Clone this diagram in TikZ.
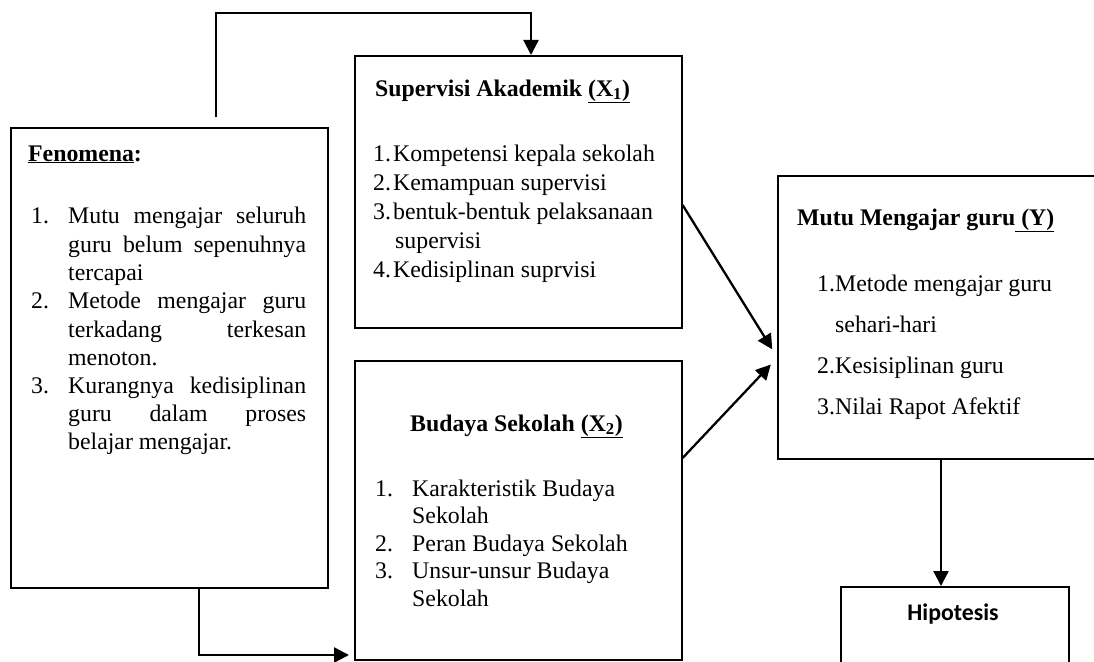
\documentclass[tikz,border=0pt]{standalone}
\usepackage{fontspec}
\setmainfont{Liberation Serif}
\newfontfamily\calib{Carlito}
\usetikzlibrary{arrows.meta,calc}
\begin{document}
\begin{tikzpicture}[x=1pt,y=-1pt,
  box/.style={draw,line width=1.6pt,rectangle,inner sep=0pt,anchor=north west},
  arr/.style={line width=2.3pt,-{Triangle[length=15pt,width=15pt]}},
  tx/.style={inner sep=0pt,anchor=base west,font=\fontsize{23.8}{28}\selectfont},
  tb/.style={inner sep=0pt,anchor=base west,font=\fontsize{23.8}{28}\selectfont\bfseries}]
\useasboundingbox (0,0) rectangle (1094,661);
\clip (0,0) rectangle (1094,661);
% boxes
\node[box,minimum width=317pt,minimum height=460pt] (fen) at (10,127) {};
\node[box,minimum width=327pt,minimum height=272pt] (sup) at (354,55) {};
\node[box,minimum width=327pt,minimum height=299pt] (bud) at (354,360) {};
\node[box,minimum width=340pt,minimum height=283pt] (mutu) at (777,175) {};
\node[box,minimum width=228pt,minimum height=100pt] (hip) at (840,586) {};
% Fenomena text
\node[tb] (f0) at (28,161) {\underline{Fenomena}:};
\node[tx] (f1n) at (31,223) {1.};
\node[tx] (f1a) at (68,223) {\makebox[238pt][s]{Mutu mengajar seluruh}};
\node[tx] (f1b) at (68,252) {\makebox[238pt][s]{guru belum sepenuhnya}};
\node[tx] (f1c) at (68,280) {tercapai};
\node[tx] (f2n) at (31,308) {2.};
\node[tx] (f2a) at (68,308) {\makebox[238pt][s]{Metode mengajar guru}};
\node[tx] (f2b) at (68,337) {\makebox[238pt][s]{terkadang terkesan}};
\node[tx] (f2c) at (68,365) {menoton.};
\node[tx] (f3n) at (31,393) {3.};
\node[tx] (f3a) at (68,393) {\makebox[238pt][s]{Kurangnya kedisiplinan}};
\node[tx] (f3b) at (68,421) {\makebox[238pt][s]{guru dalam proses}};
\node[tx] (f3c) at (68,449) {belajar mengajar.};
% Supervisi text
\node[tb] (s0) at (375,96) {Supervisi Akademik \underline{(X\textsubscript{1})}};
\node[tx] (s1n) at (373,161) {1.};
\node[tx] (s1) at (393,161) {Kompetensi kepala sekolah};
\node[tx] (s2n) at (373,190) {2.};
\node[tx] (s2) at (393,190) {Kemampuan supervisi};
\node[tx] (s3n) at (373,219) {3.};
\node[tx] (s3) at (393,219) {bentuk-bentuk pelaksanaan};
\node[tx] (s3b) at (395,248) {supervisi};
\node[tx] (s4n) at (373,277) {4.};
\node[tx] (s4) at (393,277) {Kedisiplinan suprvisi};
% Budaya text
\node[tb] (b0) at (410,431) {Budaya Sekolah \underline{(X\textsubscript{2})}};
\node[tx] (b1n) at (375,496) {1.};
\node[tx] (b1) at (412,496) {Karakteristik Budaya};
\node[tx] (b1b) at (412,523) {Sekolah};
\node[tx] (b2n) at (375,551) {2.};
\node[tx] (b2) at (412,551) {Peran Budaya Sekolah};
\node[tx] (b3n) at (375,578) {3.};
\node[tx] (b3) at (412,578) {Unsur-unsur Budaya};
\node[tx] (b3b) at (412,606) {Sekolah};
% Mutu text
\node[tb] (m0) at (797,225) {Mutu Mengajar guru\underline{ (Y)}};
\node[tx] (m1n) at (817,291) {1.};
\node[tx] (m1) at (835,291) {Metode mengajar guru};
\node[tx] (m1b) at (835,332) {sehari-hari};
\node[tx] (m2n) at (817,373) {2.};
\node[tx] (m2) at (835,373) {Kesisiplinan guru};
\node[tx] (m3n) at (817,414) {3.};
\node[tx] (m3) at (835,414) {Nilai Rapot Afektif};
% Hipotesis
\node[inner sep=0pt,anchor=base,font=\calib\fontsize{23.8}{28}\selectfont\bfseries] (h0) at (953,620) {Hipotesis};
% connectors
\coordinate (c1) at (216,117);
\coordinate (c2) at (531,13);
\draw[arr] (c1) |- (c2) -- (c2 |- sup.north);
\coordinate (c3) at (199,587);
\coordinate (c4) at (199,655);
\draw[arr,shorten >=5pt] (c3) -- (c4) -- (c4 -| bud.west);
\coordinate (d1) at ($(sup.north east)+(0,150)$);
\coordinate (d2) at ($(mutu.north west)+(0,182)$);
\draw[arr,shorten >=9pt] (d1) -- (d2);
\coordinate (d3) at ($(bud.north east)+(0,98)$);
\coordinate (d4) at ($(mutu.north west)+(0,183)$);
\draw[arr,shorten >=9pt] (d3) -- (d4);
\coordinate (v1) at (941,458);
\draw[arr] (v1) -- (v1 |- hip.north);
\end{tikzpicture}
\end{document}
